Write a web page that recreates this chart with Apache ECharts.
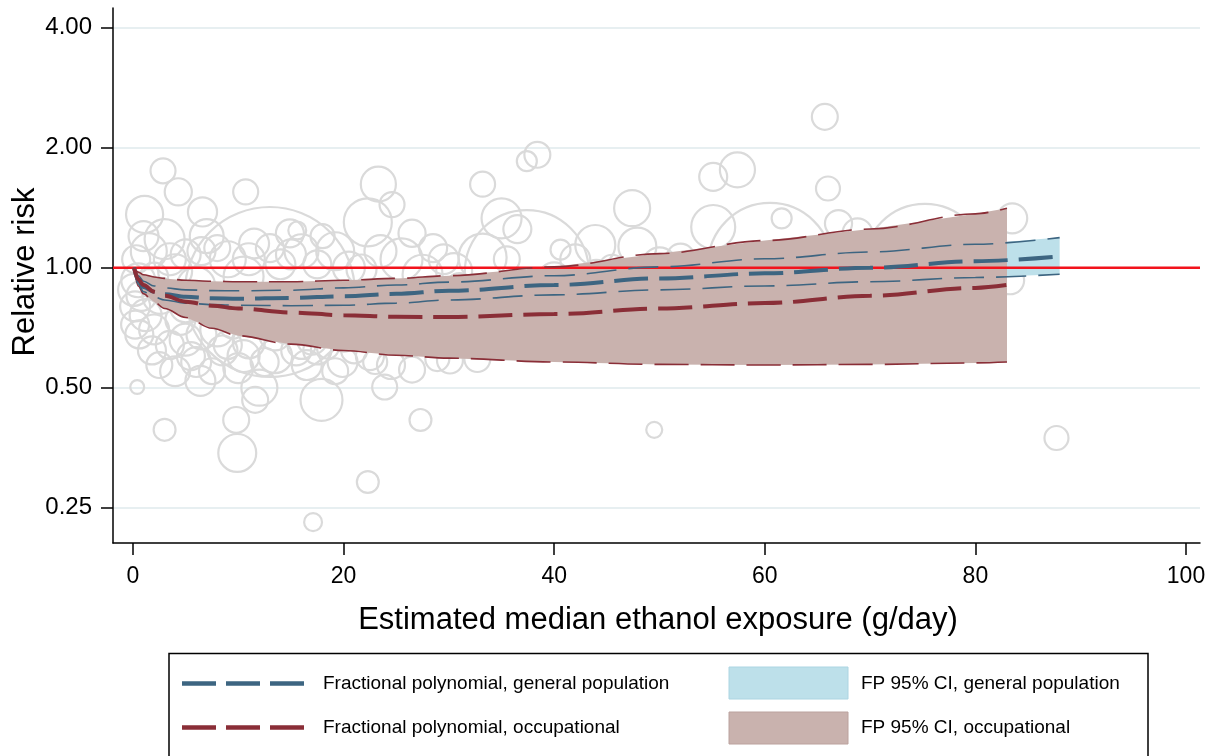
<!DOCTYPE html>
<html>
<head>
<meta charset="utf-8">
<script src="https://cdn.jsdelivr.net/npm/echarts@6/dist/echarts.min.js"></script>
<style>
  html, body { margin: 0; padding: 0; background: #ffffff; }
  #chart { width: 1216px; height: 756px; }
</style>
</head>
<body>
<div id="chart"></div>
<script>
// Fractional polynomial fit, general population studies
const genX  = [0.1, 0.5, 1, 2, 3, 5, 7.5, 10, 15, 20, 25, 30, 40, 50, 60, 70, 80, 88];
const genRR = [1.0, 0.93, 0.895, 0.87, 0.858, 0.845, 0.838, 0.836, 0.84, 0.848, 0.86, 0.875, 0.905, 0.94, 0.968, 1.0, 1.038, 1.068];
const genLo = [1.0, 0.91, 0.87, 0.845, 0.83, 0.815, 0.808, 0.805, 0.803, 0.805, 0.815, 0.83, 0.855, 0.88, 0.9, 0.922, 0.945, 0.963];
const genHi = [1.0, 0.955, 0.925, 0.9, 0.89, 0.88, 0.876, 0.875, 0.878, 0.89, 0.905, 0.92, 0.955, 1.005, 1.053, 1.095, 1.145, 1.19];

// Fractional polynomial fit, occupational cohorts
const occX  = [0.1, 0.5, 1, 2, 3, 5, 7.5, 10, 15, 20, 25, 30, 40, 50, 60, 70, 80, 83];
const occRR = [1.0, 0.935, 0.905, 0.87, 0.85, 0.822, 0.803, 0.79, 0.772, 0.76, 0.753, 0.752, 0.765, 0.79, 0.815, 0.85, 0.89, 0.905];
const occLo = [1.0, 0.9, 0.86, 0.82, 0.79, 0.75, 0.705, 0.675, 0.643, 0.62, 0.603, 0.593, 0.58, 0.572, 0.57, 0.572, 0.577, 0.58];
const occHi = [1.0, 0.975, 0.96, 0.948, 0.94, 0.93, 0.925, 0.922, 0.922, 0.93, 0.94, 0.955, 1.005, 1.085, 1.17, 1.25, 1.365, 1.41];

// Individual study estimates: median exposure (g/day), relative risk, study weight
const studyX = [65.7, 38.4, 37.4, 57.4, 55.1, 2.85, 4.3, 10.7, 33.2, 23.3, 24.6, 22.3, 1.1, 6.6, 47.4, 66.0, 61.6, 83.5, 26.5, 14.9,
  15.6, 35.0, 36.5, 33.2, 40.6, 43.9, 47.9, 55.1, 37.4, 60.5, 75.2, 13.0, 67.0, 68.8, 83.3, 87.7, 49.5, 27.3, 23.9, 22.3,
  17.1, 0.4, 3.0, 9.9, 9.8, 11.6, 17.9, 6.4, 0.5, 0.8, 0.3, 1.5, 1.2, 2.0, 2.6, 3.0, 3.5, 4.0, 4.5, 5.0,
  5.5, 6.0, 6.5, 7.0, 7.5, 8.0, 8.5, 9.0, 9.5, 10.0, 10.5, 11.0, 11.5, 12.0, 12.5, 13.5, 14.0, 14.5, 15.5, 16.0,
  16.5, 17.5, 18.5, 19.2, 19.9, 18.0, 20.5, 21.7, 22.5, 25.5, 26.5, 19.2, 28.9, 30.1, 32.7, 27.5, 29.5, 31.0, 40.0, 44.0,
  50.0, 52.0, 62.0, 2.0, 1.0, 5.0, 0.2, 0.6, 8.0, 13.0,
  0.1, 0.2, 1.8, 2.5, 4.0, 5.0, 6.0, 8.0, 9.0, 10.5, 11.5, 12.5, 13.5, 15.0, 16.0, 17.0, 18.5, 20.0, 21.0, 23.0,
  24.5, 3.5, 6.5, 11.0, 15.0, 17.5, 23.5, 28.5, 30.5, 35.5, 42.0, 45.5];
const studyRR = [2.39, 1.92, 1.85, 1.76, 1.69, 1.75, 1.55, 1.55, 1.62, 1.62, 1.44, 1.30, 1.36, 1.38, 1.41, 1.58, 1.33, 1.33, 1.22, 1.22,
  1.24, 1.33, 1.25, 1.06, 1.11, 1.14, 1.13, 1.265, 0.975, 1.016, 1.016, 0.869, 1.29, 1.22, 0.93, 0.374, 0.392, 0.415, 0.502, 0.290,
  0.230, 0.502, 0.392, 0.343, 0.415, 0.466, 0.466, 0.52, 0.93, 0.85, 1.05, 1.1, 0.76, 0.70, 0.85, 1.18, 0.64, 0.98, 0.74, 1.08,
  0.60, 0.90, 0.68, 1.20, 0.55, 0.80, 0.62, 1.05, 0.72, 0.56, 0.95, 0.65, 1.15, 0.50, 0.78, 0.60, 1.02, 0.70, 0.62, 1.10,
  0.57, 0.62, 0.63, 0.55, 0.58, 1.20, 1.00, 0.99, 0.60, 1.05, 0.555, 1.10, 0.59, 0.585, 0.59, 0.96, 1.05, 0.90, 0.94, 0.96,
  1.02, 1.06, 0.92, 0.95, 1.2, 0.8, 0.8, 0.68, 1.12, 1.12,
  0.88, 0.72, 0.62, 0.57, 0.55, 0.66, 0.58, 0.70, 0.64, 0.60, 0.74, 0.58, 0.68, 0.75, 0.64, 0.66, 0.70, 0.66, 0.62, 0.58,
  0.57, 1.05, 1.10, 1.05, 1.08, 1.02, 1.10, 1.12, 0.98, 1.05, 1.05, 1.00];
const studyW = [42, 42, 25, 77, 49, 39, 46, 39, 39, 77, 39, 144, 86, 53, 81, 36, 25, 56, 46, 49,
  20, 100, 49, 144, 25, 100, 90, 121, 961, 961, 930, 1806, 46, 56, 49, 36, 16, 30, 39, 30,
  20, 12, 30, 90, 42, 42, 110, 56, 72, 56, 49, 81, 64, 56, 81, 100, 49, 72, 56, 56,
  49, 90, 56, 72, 42, 64, 56, 81, 49, 56, 100, 64, 56, 81, 56, 72, 56, 49, 56, 72,
  56, 49, 30, 42, 56, 36, 64, 56, 49, 110, 42, 90, 36, 42, 42, 100, 56, 42, 64, 56,
  72, 49, 64, 49, 56, 64, 56, 49, 42, 49,
  64, 49, 49, 42, 56, 64, 56, 72, 49, 64, 56, 49, 64, 56, 49, 56, 42, 36, 42, 36,
  49, 64, 49, 64, 56, 49, 64, 49, 81, 42, 56, 42];

// Axis ticks and the null-effect reference
const xTicks = [0, 20, 40, 60, 80, 100];
const yTicks = [0.25, 0.5, 1, 2, 4];
const refRR = 1;

// Plot frame extends slightly beyond the labelled tick range
const X_MIN = -1.9, X_MAX = 101.33;
const Y_MIN = 0.2039, Y_MAX = 4.482;

const FONT = '"Liberation Sans", Arial, Helvetica, sans-serif';
const BLUE = '#3d6581';
const MAROON = '#8a2e37';
const BLUE_FILL = '#bde0ea';
const BROWN_FILL = '#c9b2ae';

function band(xs, lo, hi, fill, z) {
  return {
    type: 'custom', xAxisIndex: 0, yAxisIndex: 0, z: z, silent: true,
    data: [[xs[0], hi[0]]],
    renderItem: function (params, api) {
      const pts = [];
      for (let i = 0; i < xs.length; i++) pts.push(api.coord([xs[i], hi[i]]));
      for (let i = xs.length - 1; i >= 0; i--) pts.push(api.coord([xs[i], lo[i]]));
      return { type: 'polygon', shape: { points: pts }, style: { fill: fill, stroke: null } };
    }
  };
}

function curve(xs, ys, color, width, dash, z) {
  return {
    type: 'line', xAxisIndex: 0, yAxisIndex: 0, z: z, silent: true,
    data: xs.map((x, i) => [x, ys[i]]),
    symbol: 'none', showSymbol: false,
    smooth: 0.35, smoothMonotone: 'x',
    lineStyle: { color: color, width: width, type: dash, cap: 'butt' }
  };
}

const chart = echarts.init(document.getElementById('chart'), null, { renderer: 'canvas' });

const option = {
  animation: false,
  backgroundColor: '#ffffff',
  grid: [
    { left: 113, right: 16, top: 8, bottom: 213 },
    { left: 133, right: 30, top: 8, bottom: 213 },
    { left: 113, right: 16, top: 27.7, bottom: 248.7 }
  ],
  xAxis: [
    { gridIndex: 0, type: 'value', min: X_MIN, max: X_MAX,
      axisLine: { show: true, onZero: false, lineStyle: { color: '#000', width: 1.5 } },
      axisTick: { show: false }, axisLabel: { show: false }, splitLine: { show: false } },
    { gridIndex: 1, type: 'value', min: xTicks[0], max: xTicks[xTicks.length - 1], interval: 20,
      axisLine: { show: false, onZero: false },
      axisTick: { show: true, length: 12, lineStyle: { color: '#000', width: 1.5 } },
      axisLabel: { show: true, margin: 22, fontSize: 23, fontFamily: FONT, color: '#000' },
      splitLine: { show: false } },
    { gridIndex: 2, type: 'value', show: false, min: X_MIN, max: X_MAX }
  ],
  yAxis: [
    { gridIndex: 0, type: 'log', logBase: 2, min: Y_MIN, max: Y_MAX,
      axisLine: { show: true, onZero: false, lineStyle: { color: '#000', width: 1.5 } },
      axisTick: { show: false }, axisLabel: { show: false }, splitLine: { show: false } },
    { gridIndex: 1, type: 'value', show: false, min: 0, max: 1 },
    { gridIndex: 2, type: 'log', logBase: 2, min: yTicks[0], max: yTicks[yTicks.length - 1],
      axisLine: { show: false, onZero: false },
      axisTick: { show: true, length: 12, lineStyle: { color: '#000', width: 1.5 } },
      axisLabel: { show: true, margin: 21, fontSize: 24, fontFamily: FONT, color: '#000',
        formatter: v => Number(v).toFixed(2) },
      splitLine: { show: true, lineStyle: { color: '#e7eff1', width: 2 } } }
  ],
  series: [
    {
      type: 'scatter', xAxisIndex: 0, yAxisIndex: 0, z: 1, silent: true,
      data: studyX.map((x, i) => [x, studyRR[i], studyW[i]]),
      symbol: 'circle',
      symbolSize: d => 4 * Math.sqrt(d[2]),
      itemStyle: { color: 'rgba(0,0,0,0)', borderColor: '#dadada', borderWidth: 2.2, opacity: 1 }
    },
    band(genX, genLo, genHi, BLUE_FILL, 2),
    band(occX, occLo, occHi, BROWN_FILL, 3),
    {
      type: 'line', xAxisIndex: 0, yAxisIndex: 0, z: 4, silent: true,
      data: [[X_MIN, refRR], [X_MAX, refRR]], symbol: 'none',
      lineStyle: { color: '#f2131c', width: 2.5 }
    },
    curve(occX, occLo, MAROON, 1.6, [34, 12], 5),
    curve(occX, occHi, MAROON, 1.6, [34, 12], 5),
    curve(genX, genLo, BLUE, 1.6, [30, 12], 6),
    curve(genX, genHi, BLUE, 1.6, [30, 12], 6),
    curve(genX, genRR, BLUE, 4, [34, 11], 7),
    curve(occX, occRR, MAROON, 4, [34, 11], 7)
  ],
  graphic: [
    { type: 'text', z: 10, x: 658, y: 620,
      style: { text: 'Estimated median ethanol exposure (g/day)', font: '31px ' + FONT,
        fill: '#000', textAlign: 'center', textVerticalAlign: 'middle' } },
    { type: 'text', z: 10, x: 25, y: 272, rotation: Math.PI / 2,
      style: { text: 'Relative risk', font: '31px ' + FONT, fill: '#000',
        textAlign: 'center', textVerticalAlign: 'middle' } },
    { type: 'rect', z: 10, shape: { x: 169, y: 653.5, width: 979, height: 130 },
      style: { fill: '#ffffff', stroke: '#000000', lineWidth: 1.5 } },
    { type: 'line', z: 11, shape: { x1: 182, y1: 683.5, x2: 304, y2: 683.5 },
      style: { stroke: BLUE, lineWidth: 4.5, lineDash: [34, 10] } },
    { type: 'line', z: 11, shape: { x1: 182, y1: 727.5, x2: 304, y2: 727.5 },
      style: { stroke: MAROON, lineWidth: 4.5, lineDash: [34, 10] } },
    { type: 'text', z: 11, x: 323, y: 684,
      style: { text: 'Fractional polynomial, general population', font: '19px ' + FONT, fill: '#000',
        textAlign: 'left', textVerticalAlign: 'middle' } },
    { type: 'text', z: 11, x: 323, y: 728,
      style: { text: 'Fractional polynomial, occupational', font: '19px ' + FONT, fill: '#000',
        textAlign: 'left', textVerticalAlign: 'middle' } },
    { type: 'rect', z: 11, shape: { x: 729, y: 667, width: 119, height: 32 },
      style: { fill: BLUE_FILL, stroke: '#acd5e2', lineWidth: 1 } },
    { type: 'rect', z: 11, shape: { x: 729, y: 712, width: 119, height: 32 },
      style: { fill: BROWN_FILL, stroke: '#bba29e', lineWidth: 1 } },
    { type: 'text', z: 11, x: 861, y: 684,
      style: { text: 'FP 95% CI, general population', font: '19px ' + FONT, fill: '#000',
        textAlign: 'left', textVerticalAlign: 'middle' } },
    { type: 'text', z: 11, x: 861, y: 728,
      style: { text: 'FP 95% CI, occupational', font: '19px ' + FONT, fill: '#000',
        textAlign: 'left', textVerticalAlign: 'middle' } }
  ]
};

chart.setOption(option);
</script>
</body>
</html>
